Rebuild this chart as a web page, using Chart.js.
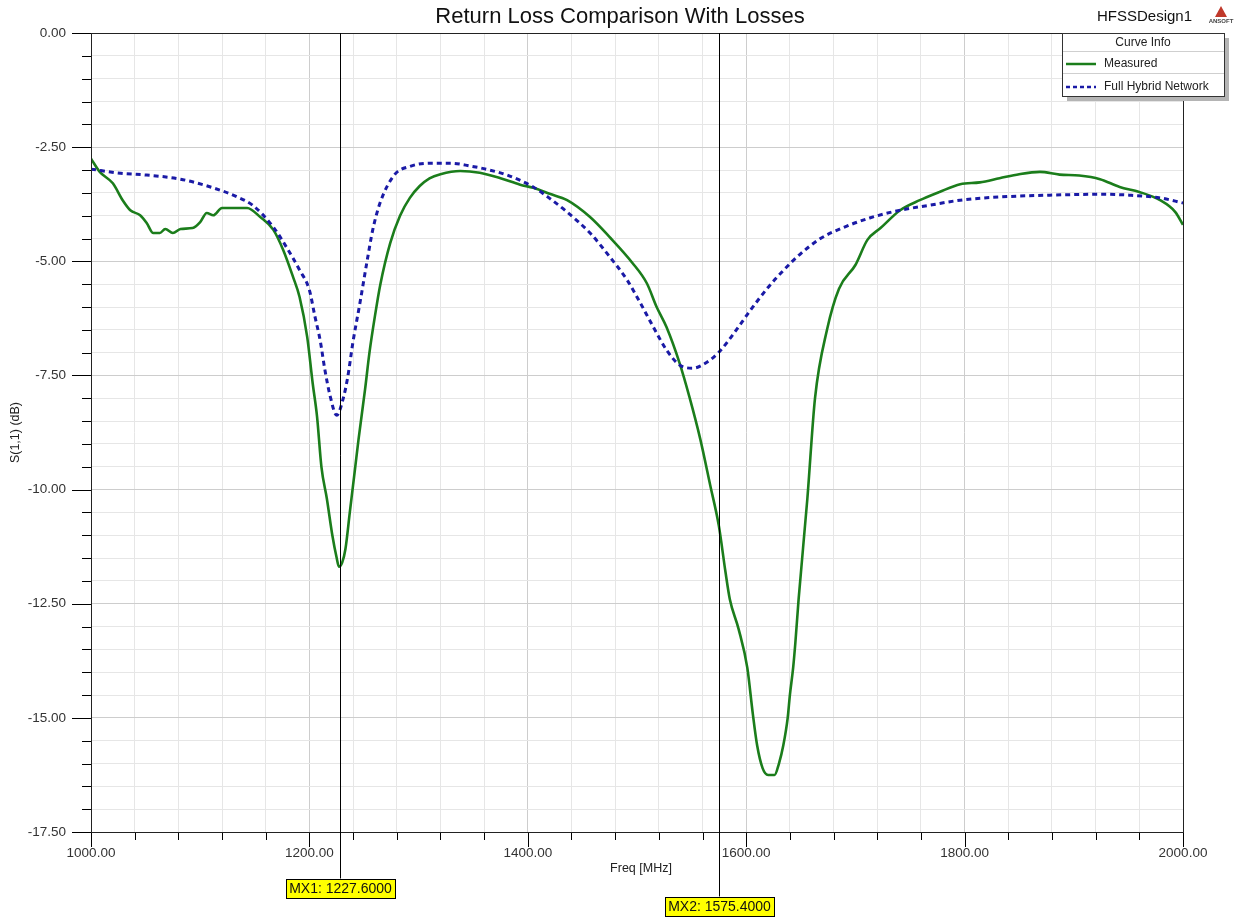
<!DOCTYPE html>
<html>
<head>
<meta charset="utf-8">
<script src="https://cdn.jsdelivr.net/npm/chart.js@4.4.1/dist/chart.umd.min.js"></script>
<style>
  html, body { margin: 0; padding: 0; background: #fff; }
  canvas { display: block; }
</style>
</head>
<body>
<canvas id="rlChart" width="1235" height="919"></canvas>
<script>
// Measured curve (MHz, dB)
const measFreq = [1000, 1008, 1020, 1029, 1036, 1045, 1051, 1057, 1063, 1068, 1075, 1082, 1093, 1100, 1106, 1112, 1120, 1143,
  1155, 1167, 1176, 1185, 1191, 1198, 1203, 1207, 1211, 1216, 1221, 1225, 1227, 1230, 1233, 1237, 1242, 1245, 1251, 1255,
  1260, 1265, 1274, 1283, 1292, 1301, 1310, 1320, 1338, 1356, 1375, 1393, 1405, 1420, 1436, 1457, 1475, 1496, 1509, 1518, 1527,
  1539, 1548, 1558, 1567, 1575, 1581, 1585, 1593, 1601, 1606, 1610, 1615, 1620, 1626, 1630, 1634, 1638, 1640, 1643, 1645,
  1648, 1656, 1663, 1674, 1685, 1700, 1711, 1723, 1741, 1759, 1777, 1796, 1814, 1832, 1850, 1869, 1887, 1905, 1924, 1942,
  1960, 1979, 1993, 2000];
const measDb = [-2.75, -3.04, -3.29, -3.66, -3.88, -3.99, -4.16, -4.38, -4.38, -4.29, -4.38, -4.29, -4.27, -4.14, -3.94, -3.99, -3.83, -3.83,
  -4.03, -4.31, -4.75, -5.34, -5.78, -6.66, -7.67, -8.40, -9.50, -10.2, -11.0, -11.5, -11.69, -11.6, -11.3, -10.5, -9.5, -8.9, -7.8, -7.0,
  -6.2, -5.5, -4.60, -4.00, -3.61, -3.35, -3.18, -3.09, -3.02, -3.06, -3.18, -3.32, -3.39, -3.52, -3.66, -4.03, -4.47, -5.04, -5.48, -6.00, -6.44,
  -7.23, -7.97, -8.90, -9.90, -10.8, -11.8, -12.4, -13.05, -13.9, -14.9, -15.6, -16.1, -16.25, -16.25, -16.0, -15.6, -15.0, -14.5, -13.9, -13.36,
  -12.4, -10.2, -8.0, -6.5, -5.6, -5.08, -4.53, -4.27, -3.88, -3.66, -3.48, -3.31, -3.27, -3.18, -3.09, -3.04, -3.10, -3.12, -3.20, -3.37,
  -3.48, -3.66, -3.92, -4.20];

// Full hybrid network model (MHz, dB)
const hybFreq = [1000, 1027, 1051, 1082, 1112, 1134, 1148, 1167, 1179, 1191, 1200, 1205, 1210, 1214, 1219, 1225, 1231, 1235, 1240, 1246,
  1253, 1258, 1265, 1278, 1292, 1310, 1329, 1347, 1365, 1381, 1405, 1420, 1436, 1457, 1475, 1491, 1503, 1515, 1527, 1539, 1551,
  1564, 1575, 1588, 1603, 1619, 1634, 1649, 1668, 1690, 1713, 1741, 1768, 1796, 1832, 1878, 1924, 1951, 1979, 2000];
const hybDb = [-2.98, -3.07, -3.11, -3.20, -3.39, -3.59, -3.77, -4.25, -4.69, -5.19, -5.63, -6.20, -6.75, -7.35, -7.95, -8.37, -8.00, -7.55, -6.75, -5.95,
  -4.97, -4.31, -3.70, -3.10, -2.92, -2.85, -2.85, -2.91, -3.00, -3.11, -3.37, -3.62, -3.92, -4.38, -4.90, -5.41, -5.91, -6.44, -6.94, -7.27, -7.34,
  -7.21, -6.99, -6.60, -6.10, -5.60, -5.20, -4.85, -4.50, -4.25, -4.05, -3.88, -3.77, -3.66, -3.59, -3.55, -3.53, -3.55, -3.61, -3.72];

const seriesNames = ['Measured', 'Full Hybrid Network'];
const markerNames = ['MX1', 'MX2'];
const markerFreqs = [1227.6, 1575.4];

const xMin = 1000, xMax = 2000, xStep = 40, xLabelStep = 200;
const yMin = -17.5, yMax = 0, yStep = 0.5, yLabelStep = 2.5;

const FONT = '"Liberation Sans", Arial, sans-serif';
const GREEN = '#1b7d1b';
const BLUE = '#1a1aa6';

const isMultiple = (v, step, base) => Math.abs(((v - base) / step) - Math.round((v - base) / step)) < 1e-6;

function toPoints(xs, ys) {
  return xs.map((x, i) => ({ x: x, y: ys[i] }));
}

// Draws everything HFSS puts around the plot: ticks, frame, markers, legend, titles
const hfssDecor = {
  id: 'hfssDecor',
  afterDatasetsDraw(chart) {
    const ctx = chart.ctx;
    const area = chart.chartArea;
    const xs = chart.scales.x;
    const ys = chart.scales.y;
    ctx.save();

    // tick marks
    ctx.strokeStyle = '#000';
    ctx.lineWidth = 1;
    ys.ticks.forEach(t => {
      const py = Math.round(ys.getPixelForValue(t.value)) + 0.5;
      const len = isMultiple(t.value, yLabelStep, 0) ? 19 : 9;
      ctx.beginPath();
      ctx.moveTo(area.left - len, py);
      ctx.lineTo(area.left, py);
      ctx.stroke();
    });
    xs.ticks.forEach(t => {
      const px = Math.round(xs.getPixelForValue(t.value)) + 0.5;
      const len = isMultiple(t.value, xLabelStep, xMin) ? 15 : 8;
      ctx.beginPath();
      ctx.moveTo(px, area.bottom);
      ctx.lineTo(px, area.bottom + len);
      ctx.stroke();
    });

    // frame
    ctx.strokeStyle = '#222';
    ctx.strokeRect(Math.round(area.left) + 0.5, Math.round(area.top) + 0.5,
      Math.round(area.right - area.left), Math.round(area.bottom - area.top));

    // markers
    const labelY = [888, 906];
    ctx.font = '14px ' + FONT;
    ctx.textBaseline = 'middle';
    ctx.textAlign = 'center';
    markerFreqs.forEach((f, i) => {
      const px = Math.round(xs.getPixelForValue(f)) + 0.5;
      const text = markerNames[i] + ': ' + f.toFixed(4);
      const w = ctx.measureText(text).width + 6;
      const h = 19;
      const top = labelY[i] - h / 2;
      ctx.strokeStyle = '#000';
      ctx.beginPath();
      ctx.moveTo(px, area.top);
      ctx.lineTo(px, top);
      ctx.stroke();
      ctx.fillStyle = '#ffff00';
      ctx.fillRect(Math.round(px - w / 2) + 0.5, Math.round(top) + 0.5, Math.round(w), h);
      ctx.strokeRect(Math.round(px - w / 2) + 0.5, Math.round(top) + 0.5, Math.round(w), h);
      ctx.fillStyle = '#111';
      ctx.fillText(text, px, labelY[i] + 1);
    });

    // legend
    const lx = 1062, ly = 33, lw = 162, lh = 63;
    ctx.fillStyle = '#b4b4b4';
    ctx.fillRect(lx + 5, ly + 5, lw, lh);
    ctx.fillStyle = '#fff';
    ctx.fillRect(lx, ly, lw, lh);
    ctx.strokeStyle = '#333';
    ctx.strokeRect(lx + 0.5, ly + 0.5, lw, lh);
    ctx.strokeStyle = '#cfcfcf';
    [51, 73].forEach(yy => {
      ctx.beginPath();
      ctx.moveTo(lx + 1, yy + 0.5);
      ctx.lineTo(lx + lw, yy + 0.5);
      ctx.stroke();
    });
    ctx.fillStyle = '#222';
    ctx.font = '12px ' + FONT;
    ctx.textAlign = 'center';
    ctx.fillText('Curve Info', lx + lw / 2, 43);
    ctx.textAlign = 'left';
    const rowY = [64, 87];
    const rowStyle = [{ c: GREEN, d: [] }, { c: BLUE, d: [4, 3] }];
    seriesNames.forEach((n, i) => {
      ctx.strokeStyle = rowStyle[i].c;
      ctx.lineWidth = 2.5;
      ctx.setLineDash(rowStyle[i].d);
      ctx.beginPath();
      ctx.moveTo(lx + 4, rowY[i]);
      ctx.lineTo(lx + 34, rowY[i]);
      ctx.stroke();
      ctx.setLineDash([]);
      ctx.fillStyle = '#222';
      ctx.fillText(n, lx + 42, rowY[i]);
    });
    ctx.lineWidth = 1;

    // titles
    ctx.fillStyle = '#111';
    ctx.font = '22px ' + FONT;
    ctx.textAlign = 'center';
    ctx.fillText('Return Loss Comparison With Losses', 620, 17);
    ctx.font = '15px ' + FONT;
    ctx.textAlign = 'left';
    ctx.fillText('HFSSDesign1', 1097, 17);

    // ansoft logo
    ctx.fillStyle = '#c0392b';
    ctx.beginPath();
    ctx.moveTo(1221, 6);
    ctx.lineTo(1215, 17);
    ctx.lineTo(1227, 17);
    ctx.closePath();
    ctx.fill();
    ctx.fillStyle = '#444';
    ctx.font = 'bold 6px ' + FONT;
    ctx.textAlign = 'center';
    ctx.fillText('ANSOFT', 1221, 21);

    // axis titles
    ctx.fillStyle = '#222';
    ctx.font = '12.5px ' + FONT;
    ctx.fillText('Freq [MHz]', (area.left + area.right) / 2 + 4, 869);
    ctx.translate(16, (area.top + area.bottom) / 2);
    ctx.rotate(-Math.PI / 2);
    ctx.fillText('S(1,1) (dB)', 0, 0);

    ctx.restore();
  }
};

const gridColor = (step, base) => ctx => {
  if (!ctx.tick) return '#e6e6e6';
  return isMultiple(ctx.tick.value, step, base) ? '#cdcdcd' : '#e6e6e6';
};

new Chart(document.getElementById('rlChart'), {
  type: 'line',
  data: {
    datasets: [
      {
        label: seriesNames[0],
        data: toPoints(measFreq, measDb),
        borderColor: GREEN,
        borderWidth: 2.6,
        pointRadius: 0,
        cubicInterpolationMode: 'monotone',
        order: 2
      },
      {
        label: seriesNames[1],
        data: toPoints(hybFreq, hybDb),
        borderColor: BLUE,
        borderWidth: 3,
        borderDash: [5, 4],
        pointRadius: 0,
        cubicInterpolationMode: 'monotone',
        order: 1
      }
    ]
  },
  options: {
    responsive: false,
    animation: false,
    devicePixelRatio: 1,
    layout: { padding: { top: 33, right: 52, left: 0, bottom: 0 } },
    plugins: {
      legend: { display: false },
      tooltip: { enabled: false },
      title: { display: false }
    },
    scales: {
      x: {
        type: 'linear',
        min: xMin,
        max: xMax,
        afterFit: s => { s.height = 87; },
        afterBuildTicks: s => {
          const t = [];
          for (let v = xMin; v <= xMax + 1e-6; v += xStep) t.push({ value: v });
          s.ticks = t;
        },
        ticks: {
          autoSkip: false,
          maxRotation: 0,
          padding: 13,
          color: '#333',
          font: { family: FONT, size: 13.5 },
          callback: v => isMultiple(v, xLabelStep, xMin) ? v.toFixed(2) : ''
        },
        grid: { color: gridColor(xLabelStep, xMin), drawTicks: false },
        border: { display: false }
      },
      y: {
        type: 'linear',
        min: yMin,
        max: yMax,
        afterFit: s => { s.width = 91; },
        afterBuildTicks: s => {
          const t = [];
          for (let v = yMin; v <= yMax + 1e-6; v += yStep) t.push({ value: Math.round(v * 100) / 100 });
          s.ticks = t;
        },
        ticks: {
          autoSkip: false,
          padding: 25,
          color: '#333',
          font: { family: FONT, size: 13.5 },
          callback: v => isMultiple(v, yLabelStep, 0) ? v.toFixed(2) : ''
        },
        grid: { color: gridColor(yLabelStep, 0), drawTicks: false },
        border: { display: false }
      }
    }
  },
  plugins: [hfssDecor]
});
</script>
</body>
</html>
